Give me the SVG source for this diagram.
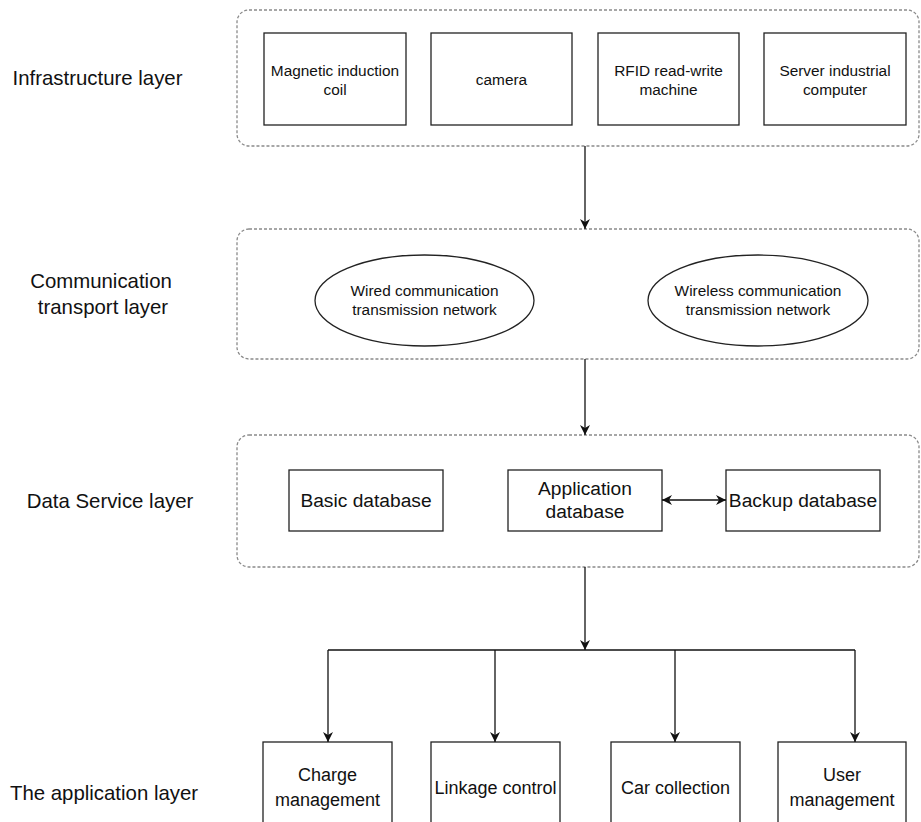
<svg xmlns="http://www.w3.org/2000/svg" width="921" height="822" viewBox="0 0 921 822">
<style>
  .bg{fill:#ffffff}
  .layer{fill:none;stroke:#8a8a8a;stroke-width:1.3;stroke-dasharray:3 2}
  .box{fill:#ffffff;stroke:#222222;stroke-width:1.3}
  .conn{fill:none;stroke:#111111;stroke-width:1.3}
  text{font-family:"Liberation Sans",Arial,Helvetica,sans-serif;fill:#111111;text-anchor:middle}
  .lbl{font-size:20.4px}
  .t15{font-size:15.4px}
  .t19{font-size:19.2px}
  .t18{font-size:18px}
</style>
<defs>
  <marker id="arr" viewBox="0 0 10 10" refX="10" refY="5" markerWidth="10" markerHeight="10" markerUnits="userSpaceOnUse" orient="auto-start-reverse">
    <path d="M0,0 L10,5 L0,10 L3,5 z" fill="#111111"/>
  </marker>
</defs>
<rect class="bg" x="0" y="0" width="921" height="822"/>

<g id="layer-labels">
  <text class="lbl" x="97.5" y="85">Infrastructure layer</text>
  <text class="lbl" x="101" y="288">Communication</text>
  <text class="lbl" x="103" y="314">transport layer</text>
  <text class="lbl" x="110" y="508">Data Service layer</text>
  <text class="lbl" x="104" y="800">The application layer</text>
</g>

<g id="infrastructure-layer">
  <rect class="layer" x="237" y="10" width="682" height="136" rx="12" ry="12"/>
</g>
<g id="magnetic-coil">
  <rect class="box" x="264" y="33" width="142" height="92"/>
  <text class="t15" x="335" y="76">Magnetic induction</text>
  <text class="t15" x="335" y="95">coil</text>
</g>
<g id="camera">
  <rect class="box" x="431" y="33" width="141" height="92"/>
  <text class="t15" x="501.5" y="85">camera</text>
</g>
<g id="rfid">
  <rect class="box" x="598" y="33" width="141" height="92"/>
  <text class="t15" x="668.5" y="76">RFID read-write</text>
  <text class="t15" x="668.5" y="95">machine</text>
</g>
<g id="server">
  <rect class="box" x="764" y="33" width="142" height="92"/>
  <text class="t15" x="835" y="76">Server industrial</text>
  <text class="t15" x="835" y="95">computer</text>
</g>

<g id="communication-layer">
  <rect class="layer" x="237" y="229" width="682" height="130" rx="12" ry="12"/>
</g>
<g id="wired">
  <ellipse class="box" cx="424.5" cy="300.5" rx="109.5" ry="45.5"/>
  <text class="t15" x="424.5" y="296">Wired communication</text>
  <text class="t15" x="424.5" y="315">transmission network</text>
</g>
<g id="wireless">
  <ellipse class="box" cx="758" cy="300.5" rx="110" ry="45.5"/>
  <text class="t15" x="758" y="296">Wireless communication</text>
  <text class="t15" x="758" y="315">transmission network</text>
</g>

<g id="data-layer">
  <rect class="layer" x="237" y="435" width="682" height="132" rx="12" ry="12"/>
</g>
<g id="basic-db">
  <rect class="box" x="289" y="470" width="154" height="61"/>
  <text class="t19" x="366" y="507">Basic database</text>
</g>
<g id="application-db">
  <rect class="box" x="508" y="470" width="154" height="61"/>
  <text class="t19" x="585" y="495">Application</text>
  <text class="t19" x="585" y="518">database</text>
</g>
<g id="backup-db">
  <rect class="box" x="726" y="470" width="154" height="61"/>
  <text class="t19" x="803" y="507">Backup database</text>
</g>

<g id="charge">
  <rect class="box" x="263" y="742" width="129" height="110"/>
  <text class="t18" x="327.5" y="781">Charge</text>
  <text class="t18" x="327.5" y="806">management</text>
</g>
<g id="linkage">
  <rect class="box" x="431" y="742" width="129" height="110"/>
  <text class="t18" x="495.5" y="794">Linkage control</text>
</g>
<g id="car">
  <rect class="box" x="611" y="742" width="129" height="110"/>
  <text class="t18" x="675.5" y="794">Car collection</text>
</g>
<g id="user">
  <rect class="box" x="778" y="742" width="128" height="110"/>
  <text class="t18" x="842" y="781">User</text>
  <text class="t18" x="842" y="806">management</text>
</g>

<g id="connectors">
  <line class="conn" x1="585" y1="146" x2="585" y2="229" marker-end="url(#arr)"/>
  <line class="conn" x1="585" y1="359" x2="585" y2="435" marker-end="url(#arr)"/>
  <line class="conn" x1="662" y1="500" x2="726" y2="500" marker-start="url(#arr)" marker-end="url(#arr)"/>
  <line class="conn" x1="585" y1="567" x2="585" y2="650" marker-end="url(#arr)"/>
  <line class="conn" x1="328" y1="650" x2="855" y2="650"/>
  <line class="conn" x1="328" y1="650" x2="328" y2="742" marker-end="url(#arr)"/>
  <line class="conn" x1="495" y1="650" x2="495" y2="742" marker-end="url(#arr)"/>
  <line class="conn" x1="675" y1="650" x2="675" y2="742" marker-end="url(#arr)"/>
  <line class="conn" x1="855" y1="650" x2="855" y2="742" marker-end="url(#arr)"/>
</g>
</svg>
